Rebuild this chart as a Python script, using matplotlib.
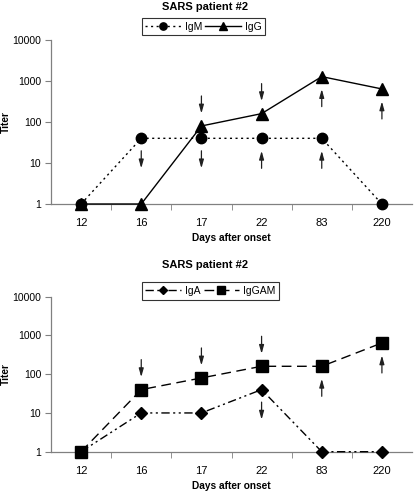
import matplotlib
matplotlib.use("Agg")
import matplotlib.pyplot as plt
import matplotlib.transforms as mtransforms

plt.rcParams['font.family'] = ['Liberation Sans', 'DejaVu Sans']

days = ["12", "16", "17", "22", "83", "220"]
igm = [1, 40, 40, 40, 40, 1]
igg = [1, 1, 80, 160, 1280, 640]
iga = [1, 10, 10, 40, 1, 1]
iggam = [1, 40, 80, 160, 160, 640]
yticks = [1, 10, 100, 1000, 10000]
title = "SARS patient #2"

# arrows: (category index, series name, direction, placement relative to marker)
arrows_top = [(1, "IgM", "down", "below"), (2, "IgG", "down", "above"),
              (2, "IgM", "down", "below"), (3, "IgG", "down", "above"),
              (3, "IgM", "up", "below"), (4, "IgG", "up", "below"),
              (4, "IgM", "up", "below"), (5, "IgG", "up", "below")]
arrows_bot = [(1, "IgGAM", "down", "above"), (2, "IgGAM", "down", "above"),
              (3, "IgGAM", "down", "above"), (3, "IgA", "down", "below"),
              (4, "IgGAM", "up", "below"), (5, "IgGAM", "up", "below")]

fig = plt.figure(figsize=(4.17, 4.92), dpi=100)
W, H = 417, 492

axgray = "#808080"


def setup(ax, series, arrows, legend_box, title_xy, xlabel_y):
    x = list(range(len(days)))
    for name, vals, ls, mk, ms in series:
        ax.plot(x, vals, color="black", linestyle=ls, linewidth=1.0,
                marker=mk, markersize=ms, label=name, clip_on=False, zorder=3)
    ax.set_yscale("log")
    ax.set_ylim(1, 10000)
    ax.set_xlim(-0.5, len(days) - 0.5)
    ax.set_yticks(yticks)
    ax.set_yticklabels([str(v) for v in yticks], fontsize=7.5)
    ax.minorticks_off()
    ax.set_xticks(x)
    ax.set_xticklabels(days, fontsize=8)
    ax.set_xticks([i + 0.5 for i in range(len(days) - 1)], minor=True)
    ax.tick_params(axis="x", which="major", length=0, pad=10)
    ax.tick_params(axis="x", which="minor", length=4, color=axgray, direction="out")
    ax.tick_params(axis="y", length=4, color=axgray, direction="out", pad=3)
    for s in ("top", "right"):
        ax.spines[s].set_visible(False)
    for s in ("left", "bottom"):
        ax.spines[s].set_color(axgray)
        ax.spines[s].set_linewidth(0.9)
    ax.set_xlabel("Days after onset", fontsize=7.3, fontweight="bold", va="center")
    ax.set_ylabel("Titer", fontsize=7.3, fontweight="bold", va="center")
    pos = ax.get_position()
    ax.yaxis.set_label_coords((5.5 / W - pos.x0) / pos.width, 0.5)
    ax.xaxis.set_label_coords(0.5, (xlabel_y - pos.y0) / pos.height)
    lookup = {name: vals for name, vals, *_ in series}
    for i, name, direction, place in arrows:
        v = lookup[name]
        sign = 1 if place == "above" else -1
        near = mtransforms.offset_copy(ax.transData, fig, x=0, y=sign * 12.5, units="dots")
        far = mtransforms.offset_copy(ax.transData, fig, x=0, y=sign * 30, units="dots")
        if direction == "down":
            head_t, tail_t = (near, far) if place == "above" else (far, near)
        else:
            head_t, tail_t = (far, near) if place == "above" else (near, far)
        ax.annotate("", xy=(i, v[i]), xycoords=head_t,
                    xytext=(i, v[i]), textcoords=tail_t,
                    arrowprops=dict(arrowstyle="-|>,head_length=0.5,head_width=0.14",
                                    color="#202020", lw=0.9, shrinkA=0, shrinkB=0))
    leg = ax.legend(loc="center", bbox_to_anchor=legend_box, bbox_transform=fig.transFigure,
                    ncol=2, fontsize=7.5, frameon=True, fancybox=False,
                    edgecolor="black", handlelength=3.4, handletextpad=0.4,
                    columnspacing=0.3, borderpad=0.35, markerscale=0.7)
    leg.get_frame().set_linewidth(0.8)
    fig.text(title_xy[0], title_xy[1], title,
             ha="center", va="center", fontsize=8, fontweight="bold")


ax1 = fig.add_axes([51 / W, 1 - 204 / H, (412 - 51) / W, (204 - 40) / H])
setup(ax1,
      [("IgM", igm, (0, (1.5, 2.5)), "o", 7.5), ("IgG", igg, "-", "^", 8)],
      arrows_top, (203.5 / W, 1 - 26.5 / H, 0, 0), (205.5 / W, 1 - 7 / H),
      1 - 238 / H)

ax2 = fig.add_axes([51 / W, 1 - 451.7 / H, (412 - 51) / W, (451.7 - 296.7) / H])
setup(ax2,
      [("IgA", iga, (0, (6, 2.5, 1.5, 2.5, 1.5, 2.5)), "D", 6.5),
       ("IgGAM", iggam, (0, (7, 4)), "s", 8)],
      arrows_bot, (210.5 / W, 1 - 291 / H, 0, 0), (205.5 / W, 1 - 265 / H),
      1 - 486 / H)

fig.savefig("out.png", dpi=100)
